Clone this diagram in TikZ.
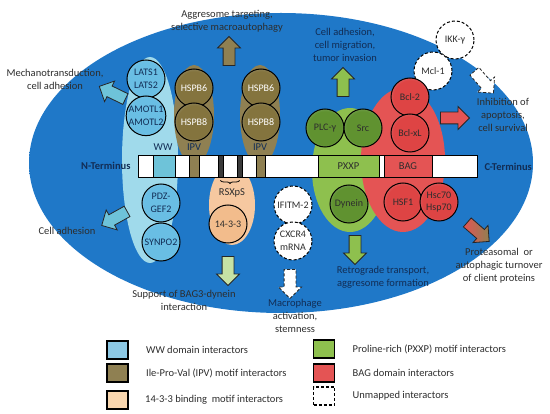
\documentclass[tikz,border=0pt]{standalone}
\usepackage{fontspec}
\setmainfont{Carlito}
\usepackage{tikz}
\usetikzlibrary{shapes, shapes.arrows, positioning, decorations.pathreplacing}

\definecolor{cellblue}{RGB}{31,120,200}
\definecolor{cellrim}{RGB}{175,200,235}
\definecolor{textnavy}{RGB}{18,45,85}
\definecolor{textgray}{RGB}{45,45,45}
\definecolor{wwlobe}{RGB}{160,218,235}
\definecolor{wwbar}{RGB}{110,195,217}
\definecolor{wwcore}{RGB}{105,190,228}
\definecolor{ipvcol}{RGB}{143,128,82}
\definecolor{ipvcore}{RGB}{132,116,62}
\definecolor{pepcol}{RGB}{246,200,160}
\definecolor{pepcore}{RGB}{242,188,140}
\definecolor{pxxpcol}{RGB}{142,192,78}
\definecolor{pxxpcore}{RGB}{96,146,48}
\definecolor{bagcol}{RGB}{228,84,84}
\definecolor{bagcore}{RGB}{222,68,68}
\definecolor{rimgray}{RGB}{200,215,232}
\definecolor{darkseg}{RGB}{58,58,58}
\definecolor{keyblue}{RGB}{140,200,228}
\definecolor{keypep}{RGB}{249,215,175}
\definecolor{lightgreen}{RGB}{198,226,165}

\pgfdeclareradialshading{cellshade}{\pgfpoint{0bp}{14bp}}{color(0bp)=(cellblue); color(38bp)=(cellblue); color(50bp)=(cellrim)}
\pgfdeclareradialshading{wwshade}{\pgfpoint{0bp}{0bp}}{color(0bp)=(wwcore); color(22bp)=(wwcore); color(46bp)=(rimgray); color(50bp)=(rimgray)}
\pgfdeclareradialshading{ipvshade}{\pgfpoint{0bp}{0bp}}{color(0bp)=(ipvcore); color(22bp)=(ipvcore); color(46bp)=(rimgray); color(50bp)=(rimgray)}
\pgfdeclareradialshading{pepshade}{\pgfpoint{0bp}{0bp}}{color(0bp)=(pepcore); color(22bp)=(pepcore); color(46bp)=(rimgray); color(50bp)=(rimgray)}
\pgfdeclareradialshading{pxxpshade}{\pgfpoint{0bp}{0bp}}{color(0bp)=(pxxpcore); color(22bp)=(pxxpcore); color(46bp)=(rimgray); color(50bp)=(rimgray)}
\pgfdeclareradialshading{bagshade}{\pgfpoint{0bp}{0bp}}{color(0bp)=(bagcore); color(22bp)=(bagcore); color(46bp)=(rimgray); color(50bp)=(rimgray)}

\tikzset{%
  partner/.style={circle, draw, line width=1pt, minimum size=38pt, inner sep=0pt, align=center, shade, font=\fontsize{10}{12.5}\selectfont},
  wwpartner/.style={partner, shading=wwshade, text=textnavy},
  ipvpartner/.style={partner, shading=ipvshade, text=white},
  peppartner/.style={partner, shading=pepshade, text=textgray},
  pxxppartner/.style={partner, shading=pxxpshade, text=textgray},
  bagpartner/.style={partner, shading=bagshade, text=textgray},
  unmapped/.style={circle, draw, dash pattern=on 3pt off 2pt, line width=1pt, fill=white, minimum size=38pt, inner sep=0pt, align=center, text=textgray, font=\fontsize{10}{12.5}\selectfont},
  segment/.style={rectangle, draw, line width=0.9pt, minimum height=22pt, inner sep=0pt},
  fatarrow/.style={single arrow, draw=black!85, line width=0.8pt, minimum height=29pt, inner xsep=0pt, inner ysep=5.5pt, single arrow head extend=5.5pt},
  outcome/.style={align=center, text=textgray, font=\fontsize{10.5}{13}\selectfont},
  inoutcome/.style={outcome, text=textnavy},
  motif/.style={text=textnavy, font=\fontsize{10.5}{13}\selectfont},
  keybox/.style={rectangle, draw, line width=1.3pt, minimum width=21pt, minimum height=18pt},
  keytext/.style={text=textgray, font=\fontsize{10.5}{13}\selectfont}}

\begin{document}
\begin{tikzpicture}[x=1pt, y=-1pt, node distance=2pt]
    \useasboundingbox (0,0) rectangle (550,414);
    % Cell body
    \path[shade, shading=cellshade] (281,163) ellipse [x radius=252, y radius=150];
    % Lobes behind the motifs
    \fill[wwlobe] (150,160) ellipse [x radius=28, y radius=103];
    \fill[ipvcol] (194,115) ellipse [x radius=20, y radius=50];
    \fill[ipvcol] (260,115) ellipse [x radius=20, y radius=50];
    \fill[pepcol] (232,205) ellipse [x radius=23, y radius=40];
    \fill[pxxpcol] (350,170) ellipse [x radius=38, y radius=62];
    \fill[bagcol] (403,160) ellipse [x radius=42, y radius=72];
    % BAG3 bar
    \node (bar) [segment, fill=white, minimum width=339pt] at (307.5,166) {};
    \node (wwseg) [segment, fill=wwbar, minimum width=22pt] at (164,166) {};
    \node (ipvseg1) [segment, fill=ipvcol, minimum width=10pt] at (194,166) {};
    \node (dark1) [segment, fill=darkseg, minimum width=5pt] at (220.5,166) {};
    \node (dark2) [segment, fill=darkseg, minimum width=5pt] at (239.5,166) {};
    \node (ipvseg2) [segment, fill=ipvcol, minimum width=9pt] at (260.5,166) {};
    \node (pxxpseg) [segment, fill=pxxpcol, minimum width=61pt, font=\fontsize{10.5}{13}\selectfont, text=textgray] at (348.5,166) {PXXP};
    \node (bagseg) [segment, fill=bagcol, minimum width=48pt, font=\fontsize{10.5}{13}\selectfont, text=textgray] at (408,166) {BAG};
    \node (nterm) [anchor=east, motif, font=\bfseries\fontsize{10.5}{13}\selectfont] at (134,166) {N-Terminus};
    \node (cterm) [anchor=west, motif, font=\bfseries\fontsize{10.5}{13}\selectfont] at (481,167) {C-Terminus};
    \node (wwlabel) [motif] at (163,147) {WW};
    \node (ipvlabel1) [motif] at (194,147) {IPV};
    \node (ipvlabel2) [motif] at (260,147) {IPV};
    \draw[decorate, decoration={brace, mirror, amplitude=3pt}, line width=0.8pt] ([yshift=-3pt]dark1.south) -- ([yshift=-3pt]dark2.south);
    \node (rsxps) [motif, text=textgray] at (232,193) {RSXpS};
    % Interactors
    \node (lats) [wwpartner] at (146,79) {LATS1\\LATS2};
    \node (amotl) [wwpartner, below=-3pt of lats] {AMOTL1\\AMOTL2};
    \node (pdzgef) [wwpartner] at (161,203) {PDZ-\\GEF2};
    \node (synpo) [wwpartner, below=0pt of pdzgef] {SYNPO2};
    \node (hspbsix1) [ipvpartner] at (194,88) {HSPB6};
    \node (hspbeight1) [ipvpartner, below=-5pt of hspbsix1] {HSPB8};
    \node (hspbsix2) [ipvpartner] at (261,88) {HSPB6};
    \node (hspbeight2) [ipvpartner, below=-5pt of hspbsix2] {HSPB8};
    \node (fourteen) [peppartner] at (228,224) {14-3-3};
    \node (plc) [pxxppartner] at (325,128) {PLC-γ};
    \node (src) [pxxppartner, right=-1pt of plc] {Src};
    \node (dynein) [pxxppartner] at (349,204) {Dynein};
    \node (ikk) [unmapped] at (455,40) {IKK-γ};
    \node (mcl) [unmapped] at (433,71) {Mcl-1};
    \node (bcltwo) [bagpartner] at (410,97) {Bcl-2};
    \node (bclxl) [bagpartner, below=-3pt of bcltwo] {Bcl-xL};
    \node (hsf) [bagpartner] at (403,202) {HSF1};
    \node (hsc) [bagpartner, right=-3pt of hsf] {Hsc70\\Hsp70};
    \node (ifitm) [unmapped] at (293,205) {IFITM-2};
    \node (cxcr) [unmapped, below=-3pt of ifitm] {CXCR4\\mRNA};
    % Outcome arrows
    \node (mecharrow) [fatarrow, fill=wwbar, rotate=154] at (115,94) {};
    \node (adharrow) [fatarrow, fill=wwbar, rotate=209] at (117,217) {};
    \node (aggrarrow) [fatarrow, fill=ipvcol, rotate=90] at (229,54) {};
    \node (migrarrow) [fatarrow, fill=pxxpcol, rotate=90] at (343,85) {};
    \node (survarrow1) [fatarrow, fill=white, dash pattern=on 3pt off 2pt, rotate=-49] at (482,80) {};
    \node (survarrow2) [fatarrow, fill=bagcol, rotate=0] at (452,118) {};
    \node (retroarrow) [fatarrow, fill=pxxpcol, rotate=-90] at (355,247) {};
    \node (turnarrow) [fatarrow, left color=bagcol, right color=ipvcol, rotate=-41] at (476,230) {};
    \node (supparrow) [fatarrow, fill=lightgreen, rotate=-90] at (228,268) {};
    \node (macroarrow) [fatarrow, fill=white, dash pattern=on 3pt off 2pt, rotate=-90] at (290,281) {};
    % Outcome texts
    \node (mechtext) [outcome] at (55,79) {Mechanotransduction,\\cell adhesion};
    \node (aggrtext) [outcome] at (227,21) {Aggresome targeting,\\selective macroautophagy};
    \node (migrtext) [inoutcome] at (345,45) {Cell adhesion,\\cell migration,\\tumor invasion};
    \node (survtext) [outcome] at (503,115) {Inhibition of\\apoptosis,\\cell survival};
    \node (adhtext) [outcome] at (67,231) {Cell adhesion};
    \node (supptext) [outcome] at (184,300) {Support of BAG3-dynein\\interaction};
    \node (macrotext) [outcome] at (295,316) {\textcolor{textnavy}{Macrophage}\\activation,\\stemness};
    \node (retrotext) [inoutcome] at (383,277) {Retrograde transport,\\aggresome formation};
    \node (turntext) [outcome] at (499,266) {Proteasomal~ or\\autophagic turnover\\of client proteins};
    % Legend
    \node (wwkey) [keybox, fill=keyblue] at (117.5,350) {};
    \node (ipvkey) [keybox, fill=ipvcol] at (117.5,373) {};
    \node (pepkey) [keybox, fill=keypep] at (117.5,400) {};
    \node (pxxpkey) [keybox, fill=pxxpcol] at (324,349) {};
    \node (bagkey) [keybox, fill=bagcol] at (324,373) {};
    \node (unkey) [keybox, dash pattern=on 3pt off 2pt, fill=white] at (324,396) {};
    \node (wwkeytext) [keytext, right=14pt of wwkey] {WW domain interactors};
    \node (ipvkeytext) [keytext, right=14pt of ipvkey] {Ile-Pro-Val (IPV) motif interactors};
    \node (pepkeytext) [keytext, right=13pt of pepkey] {14-3-3 binding~ motif interactors};
    \node (pxxpkeytext) [keytext, right=14pt of pxxpkey] {Proline-rich (PXXP) motif interactors};
    \node (bagkeytext) [keytext, right=14pt of bagkey] {BAG domain interactors};
    \node (unkeytext) [keytext, right=14pt of unkey] {Unmapped interactors};
\end{tikzpicture}
\end{document}
